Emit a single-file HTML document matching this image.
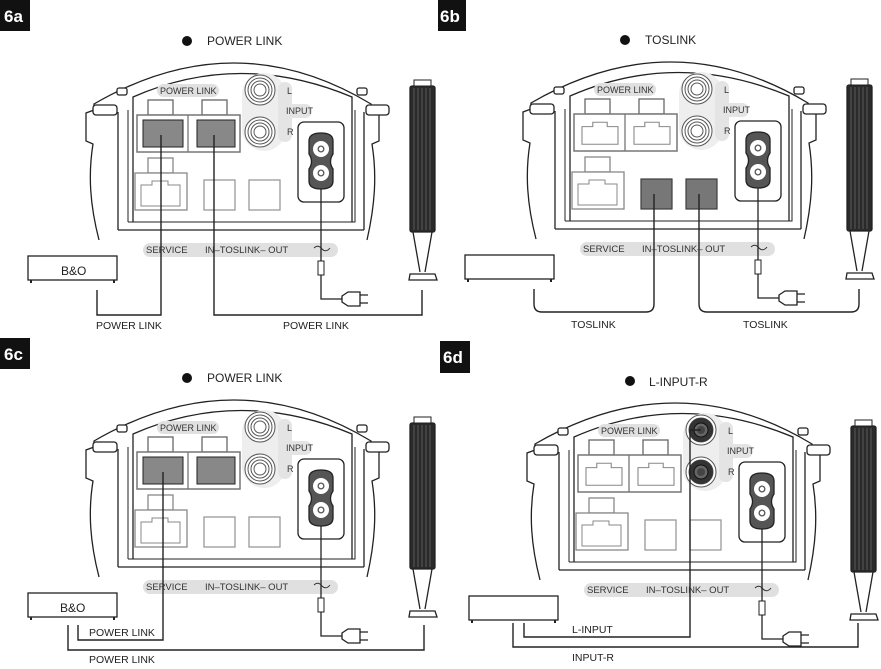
<!DOCTYPE html>
<html><head><meta charset="utf-8"><style>
html,body{margin:0;padding:0;background:#fff;}
svg{display:block;font-family:"Liberation Sans",sans-serif;}
.pl{font-size:9px;fill:#333;}
.pb{font-size:9.5px;fill:#333;}
.cap{font-size:10.5px;fill:#222;}
</style></head><body>
<svg width="881" height="669" viewBox="0 0 881 669" xmlns="http://www.w3.org/2000/svg">
<defs>
<path id="rj" d="M0,22 L0,6 L9,6 L9,2 L21,2 L21,6 L30,6 L30,22 Z"/>
<g id="dev" fill="none" stroke="#222" stroke-width="1.3">
  <path d="M99,240 C90,205 88,175 93,144 L86,141 L86,113 L94,110 L94,104 Q235,22 371,104 L371,110 L379,113 L379,141 L372,144 C377,175 375,205 367,240" fill="#fff"/>
  <path d="M118,230 L118,112 M118,230 L364,230 M364,230 L364,112"/>
  <path d="M128,222 L128,110 M128,222 L355,222 L355,110" stroke-width="1"/>
  <path d="M133,222 L133,97 Q240,50 352,97 L352,222"/>
  <rect x="93" y="105" width="24" height="10" rx="3" fill="#fff"/>
  <rect x="366" y="105" width="23" height="10" rx="3" fill="#fff"/>
  <rect x="117" y="88" width="10" height="7" rx="2" fill="#fff"/>
  <rect x="357" y="88" width="10" height="7" rx="2" fill="#fff"/>
  <rect x="148" y="100" width="25" height="15" fill="#fff" stroke="#666"/>
  <rect x="202" y="100" width="25" height="15" fill="#fff" stroke="#666"/>
  <rect x="137" y="115" width="103" height="37" fill="#fff" stroke="#777" stroke-width="1.5"/>
  <line x1="188" y1="115" x2="188" y2="152" stroke="#777"/>
  <use href="#rj" transform="translate(145,121) scale(1.2,1.1)" stroke="#888" stroke-width="0.9"/>
  <use href="#rj" transform="translate(197,121) scale(1.2,1.1)" stroke="#888" stroke-width="0.9"/>
  <rect x="242" y="73" width="44" height="78" rx="22" fill="#eee" stroke="none"/>
  <rect x="280" y="104" width="32" height="14" rx="7" fill="#e4e4e4" stroke="none"/>
  <rect x="278" y="82" width="14" height="60" rx="7" fill="#e4e4e4" stroke="none"/>
  <g stroke="#555" stroke-width="1">
   <circle cx="260" cy="90" r="15" fill="#fff"/><circle cx="260" cy="90" r="12"/><circle cx="260" cy="90" r="9"/><circle cx="260" cy="90" r="6"/>
   <circle cx="260" cy="132" r="15" fill="#fff"/><circle cx="260" cy="132" r="12"/><circle cx="260" cy="132" r="9"/><circle cx="260" cy="132" r="6"/>
  </g>
  <rect x="298" y="122" width="46" height="80" rx="6" fill="#fff"/>
  <path d="M309,141 Q309,133 321,133 Q333,133 333,141 L333,154 Q328,161.5 333,169 L333,181 Q333,189 321,189 Q309,189 309,181 L309,169 Q314,161.5 309,154 Z" fill="#555" stroke="#222"/>
  <circle cx="321" cy="149" r="8" fill="#fff" stroke="none"/><circle cx="321" cy="149" r="3.5" fill="#555" stroke="none"/><circle cx="321" cy="149" r="2.2" fill="#fff" stroke="none"/>
  <circle cx="321" cy="173" r="8" fill="#fff" stroke="none"/><circle cx="321" cy="173" r="3.5" fill="#555" stroke="none"/><circle cx="321" cy="173" r="2.2" fill="#fff" stroke="none"/>
  <rect x="148" y="158" width="25" height="15" fill="#fff" stroke="#888"/>
  <rect x="135" y="173" width="52" height="37" fill="#fff" stroke="#888"/>
  <path d="M141,206 L141,185 L152,185 L152,181 L168,181 L168,185 L180,185 L180,206 Z" stroke="#888" stroke-width="1"/>
  <rect x="204" y="180" width="31" height="30" fill="#fff" stroke="#999"/>
  <rect x="249" y="180" width="31" height="30" fill="#fff" stroke="#999"/>
  <rect x="143" y="243" width="195" height="14" rx="7" fill="#e0e0e0" stroke="none"/>
  <rect x="157" y="84" width="62" height="13" rx="6.5" fill="#e0e0e0" stroke="none"/>
  <path d="M314,248 Q318,244 322,249 Q326,253 330,248" stroke="#333" stroke-width="1"/>
  <line x1="321" y1="189" x2="321" y2="262"/>
  <rect x="318" y="261" width="6" height="14" fill="#fff" stroke-width="1"/>
  <path d="M321,275 L321,299 L342,299"/>
  <path d="M342,296 L348,292 L360,292 L360,306 L348,306 L342,302 Z" fill="#fff"/>
  <path d="M360,295 L368,295 M360,303 L368,303"/>
  <rect x="28" y="256" width="89" height="24" fill="#fff"/>
  <path d="M31,280 v3 M114,280 v3" stroke-width="2"/>
  <rect x="410" y="86" width="25" height="146" rx="2" fill="#2a2a2a"/>
  <g stroke="#666" stroke-width="0.8"><path d="M414,88V230 M418,88V230 M422,88V230 M426,88V230 M430,88V230"/></g>
  <rect x="414" y="80" width="17" height="6" fill="#fff" stroke-width="1"/>
  <path d="M413,232 L420,272 M432,232 L425,272" />
  <path d="M409,280 L410,274 L435,274 L437,280 Z" fill="#fff"/>
</g>
</defs>

<g>
 <rect x="0" y="0" width="30" height="31" fill="#111"/>
 <text x="4" y="22" fill="#fff" font-size="17" font-weight="bold">6a</text>
 <circle cx="187" cy="41" r="5" fill="#111"/>
 <text x="207" y="45" font-size="12" fill="#222">POWER LINK</text>
 <use href="#dev"/>
 <rect x="143" y="120" width="40" height="27" fill="#888" stroke="#222"/>
 <rect x="197" y="120" width="38" height="27" fill="#888" stroke="#222"/>
 <path d="M161,135 V315 H97 V290 M214,135 V315 H422 V290" fill="none" stroke="#222" stroke-width="1.4"/>
 <text x="61" y="275" font-size="12" fill="#222">B&amp;O</text>
 <text x="96" y="329" class="cap">POWER LINK</text>
 <text x="283" y="329" class="cap">POWER LINK</text>
 <g class="pl"><text x="160" y="94">POWER LINK</text><text x="287" y="94">L</text><text x="286" y="114">INPUT</text><text x="287" y="135">R</text></g>
 <g class="pb"><text x="146" y="253">SERVICE</text><text x="205" y="253">IN–TOSLINK– OUT</text></g>
</g>

<g transform="translate(437,-1)">
 <rect x="1" y="1" width="28" height="31" fill="#111"/>
 <text x="3" y="23" fill="#fff" font-size="17" font-weight="bold">6b</text>
 <circle cx="188" cy="41" r="5" fill="#111"/>
 <text x="208" y="45" font-size="12" fill="#222">TOSLINK</text>
 <use href="#dev"/>
 <rect x="204" y="180" width="31" height="30" fill="#777" stroke="#333"/>
 <rect x="249" y="180" width="31" height="30" fill="#777" stroke="#333"/>
 <path d="M217,195 V305 Q217,313 209,313 H105 Q97,313 97,305 V290 M262,195 V305 Q262,313 270,313 H414 Q422,313 422,305 V290" fill="none" stroke="#222" stroke-width="1.4"/>
 <text x="134" y="329" class="cap">TOSLINK</text>
 <text x="306" y="329" class="cap">TOSLINK</text>
 <g class="pl"><text x="160" y="94">POWER LINK</text><text x="287" y="94">L</text><text x="286" y="114">INPUT</text><text x="287" y="135">R</text></g>
 <g class="pb"><text x="146" y="253">SERVICE</text><text x="205" y="253">IN–TOSLINK– OUT</text></g>
</g>

<g transform="translate(0,337)">
 <rect x="0" y="1" width="30" height="31" fill="#111"/>
 <text x="4" y="23" fill="#fff" font-size="17" font-weight="bold">6c</text>
 <circle cx="187" cy="41" r="5" fill="#111"/>
 <text x="207" y="45" font-size="12" fill="#222">POWER LINK</text>
 <use href="#dev"/>
 <rect x="143" y="120" width="40" height="27" fill="#888" stroke="#222"/>
 <rect x="197" y="120" width="38" height="27" fill="#888" stroke="#222"/>
 <path d="M163,135 V303 H78 V288 M68,288 V313 H424 V288" fill="none" stroke="#222" stroke-width="1.4"/>
 <text x="60" y="275" font-size="12" fill="#222">B&amp;O</text>
 <text x="89" y="299" class="cap">POWER LINK</text>
 <text x="89" y="326" class="cap">POWER LINK</text>
 <g class="pl"><text x="160" y="94">POWER LINK</text><text x="287" y="94">L</text><text x="286" y="114">INPUT</text><text x="287" y="135">R</text></g>
 <g class="pb"><text x="146" y="253">SERVICE</text><text x="205" y="253">IN–TOSLINK– OUT</text></g>
</g>

<g transform="translate(441,340)">
 <rect x="-1" y="1" width="30" height="32" fill="#111"/>
 <text x="2" y="23" fill="#fff" font-size="17" font-weight="bold">6d</text>
 <circle cx="189" cy="41" r="5" fill="#111"/>
 <text x="208" y="46" font-size="12" fill="#222">L-INPUT-R</text>
 <use href="#dev"/>
 <circle cx="260" cy="90" r="12" fill="#333"/><circle cx="260" cy="90" r="7" fill="#666" stroke="#111"/><circle cx="260" cy="90" r="4" fill="#444"/>
 <circle cx="260" cy="132" r="12" fill="#333"/><circle cx="260" cy="132" r="7" fill="#666" stroke="#111"/><circle cx="260" cy="132" r="4" fill="#444"/>
 <path d="M260,90 H249 V297 H83 V283 M72,283 V307 H417 V283" fill="none" stroke="#222" stroke-width="1.4"/>
 <text x="131" y="293" class="cap">L-INPUT</text>
 <text x="131" y="321" class="cap">INPUT-R</text>
 <g class="pl"><text x="160" y="94">POWER LINK</text><text x="287" y="94">L</text><text x="286" y="114">INPUT</text><text x="287" y="135">R</text></g>
 <g class="pb"><text x="146" y="253">SERVICE</text><text x="205" y="253">IN–TOSLINK– OUT</text></g>
</g>
</svg>
</body></html>
